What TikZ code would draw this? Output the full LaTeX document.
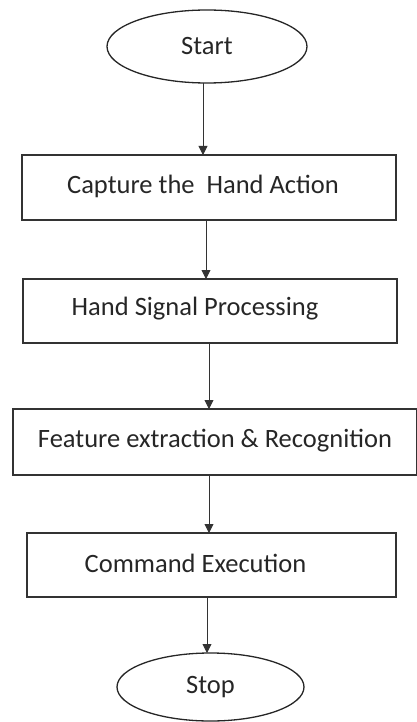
\documentclass[tikz,border=0pt]{standalone}
\usepackage{fontspec}
\setmainfont{Carlito}
\usetikzlibrary{shapes.geometric,arrows.meta}
\begin{document}
\begin{tikzpicture}[x=1pt,y=-1pt,
  every node/.style={inner sep=0pt, outer sep=0pt},
  lbl/.style={font=\fontsize{26.5}{30}\selectfont, text=black!85},
  terminal/.style={ellipse, draw=black!85, line width=1.3pt},
  stepbox/.style={rectangle, draw=black!80, line width=1.6pt},
  arr/.style={draw=black!80, line width=0.9pt, -{Triangle[width=9pt,length=9pt]}}]
  \useasboundingbox (0,0) rectangle (417,722);

  % terminals
  \node[terminal, minimum width=200pt, minimum height=73pt, lbl] (start) at (207,46.5) {Start};
  \node[terminal, minimum width=187pt, minimum height=68pt, lbl] (stop) at (210.5,687) {Stop};

  % process boxes
  \node[stepbox, minimum width=374pt, minimum height=65pt] (b1) at (209,187.5) {};
  \node[stepbox, minimum width=374pt, minimum height=64pt] (b2) at (210,311) {};
  \node[stepbox, minimum width=404pt, minimum height=66pt] (b3) at (215,442) {};
  \node[stepbox, minimum width=369pt, minimum height=64pt] (b4) at (211.5,565) {};

  % box captions
  \node[lbl] (t1) at (203,186) {Capture the\ \ Hand Action};
  \node[lbl] (t2) at (195,309) {Hand Signal Processing};
  \node[lbl] (t3) at (215,441) {Feature extraction \& Recognition};
  \node[lbl] (t4) at (195.5,563) {Command Execution};

  % flow
  \draw[arr] (start.south -| 203,0) -- (b1.north -| 203,0);
  \draw[arr] (b1.south -| 206,0) -- (b2.north -| 206,0);
  \draw[arr] (b2.south -| 209,0) -- (b3.north -| 209,0);
  \draw[arr] (b3.south -| 209,0) -- (b4.north -| 209,0);
  \draw[arr] (b4.south -| 207,0) -- (stop.north -| 207,0);
\end{tikzpicture}
\end{document}
